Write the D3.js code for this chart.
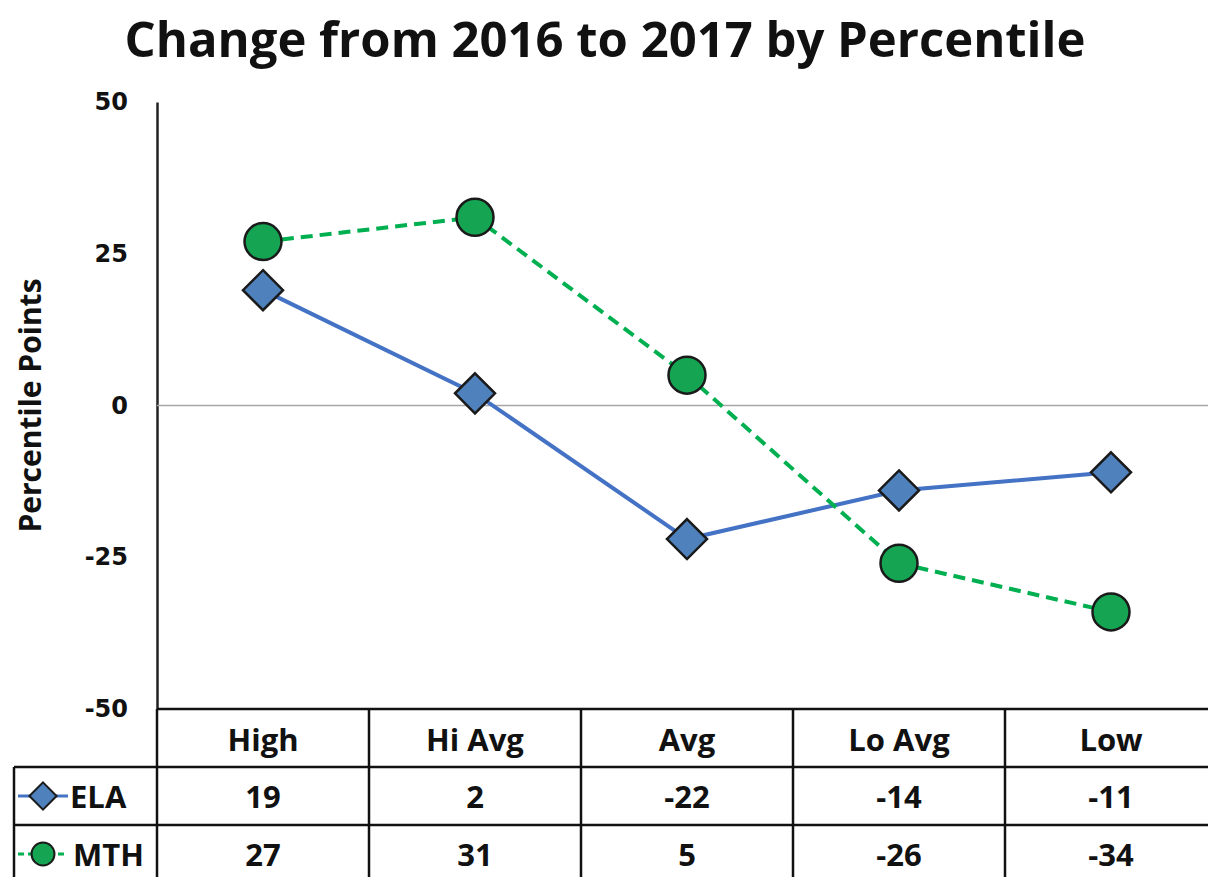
<!DOCTYPE html>
<html>
<head>
<meta charset="utf-8">
<script src="https://cdnjs.cloudflare.com/ajax/libs/d3/7.8.5/d3.min.js"></script>
<style>
  body { margin: 0; background: #fff; }
  text { font-family: "Open Sans", "Liberation Sans", sans-serif; font-weight: bold; fill: #111; }
</style>
</head>
<body>
<div id="chart"></div>
<script>
// Data
const categories = ["High", "Hi Avg", "Avg", "Lo Avg", "Low"];
const elaValues = [19, 2, -22, -14, -11];
const mthValues = [27, 31, 5, -26, -34];
const yTicks = [50, 25, 0, -25, -50];

const config = {
    width: 1208,
    height: 877,
    plotLeft: 157,
    plotRight: 1217,
    plotTop: 102,
    plotBottom: 709,
    rowH: 58
};

const svg = d3.select("#chart")
    .append("svg")
    .attr("width", config.width)
    .attr("height", config.height);

// Scales
const xScale = d3.scaleBand()
    .domain(categories)
    .range([config.plotLeft, config.plotRight]);

const yScale = d3.scaleLinear()
    .domain([-50, 50])
    .range([config.plotBottom, config.plotTop]);

const cx = c => xScale(c) + xScale.bandwidth() / 2;

// Title
svg.append("text")
    .attr("x", 605)
    .attr("y", 57)
    .attr("text-anchor", "middle")
    .style("font-size", "49px")
    .text("Change from 2016 to 2017 by Percentile");

// Y axis
const yAxis = d3.axisLeft(yScale)
    .tickValues(yTicks)
    .tickSize(0)
    .tickPadding(29)
    .tickFormat(d => String(d)); // plain hyphen, not the minus sign

const yG = svg.append("g")
    .attr("transform", `translate(${config.plotLeft},0)`)
    .call(yAxis);
yG.select(".domain").attr("stroke", "#222").attr("stroke-width", 2.5);
yG.selectAll(".tick text")
    .style("font-size", "24px")
    .style("font-family", "DejaVu Sans, sans-serif")
    .style("font-weight", "bold")
    .attr("fill", "#111");

svg.append("text")
    .attr("transform", `translate(41, ${yScale(0)}) rotate(-90)`)
    .attr("text-anchor", "middle")
    .style("font-size", "30px")
    .text("Percentile Points");

// Zero line
svg.append("line")
    .attr("x1", config.plotLeft)
    .attr("x2", config.plotRight)
    .attr("y1", yScale(0))
    .attr("y2", yScale(0))
    .attr("stroke", "#a6a6a6")
    .attr("stroke-width", 1.5);

// Series
const series = [
    { name: "ELA", values: elaValues, line: "#4472c4", fill: "#4f81bd", dash: null },
    { name: "MTH", values: mthValues, line: "#00b050", fill: "#14a452", dash: "12,7" }
];

const lineGen = d3.line()
    .x((d, i) => cx(categories[i]))
    .y(d => yScale(d));

series.forEach(s => {
    svg.append("path")
        .datum(s.values)
        .attr("fill", "none")
        .attr("stroke", s.line)
        .attr("stroke-width", 4)
        .attr("stroke-dasharray", s.dash)
        .attr("d", lineGen);
});

// Markers
function drawMarker(g, s, x, y, scale) {
    if (s.name === "ELA") {
        const h = 20 * scale;
        g.append("path")
            .attr("d", `M${x},${y - h}L${x + h},${y}L${x},${y + h}L${x - h},${y}Z`)
            .attr("fill", s.fill)
            .attr("stroke", "#1a1a1a")
            .attr("stroke-width", 2.5 * Math.max(scale, 0.8));
    } else {
        g.append("circle")
            .attr("cx", x)
            .attr("cy", y)
            .attr("r", 18.5 * scale)
            .attr("fill", s.fill)
            .attr("stroke", "#1a1a1a")
            .attr("stroke-width", 2.5 * Math.max(scale, 0.8));
    }
}

series.forEach(s => {
    const g = svg.append("g");
    s.values.forEach((v, i) => drawMarker(g, s, cx(categories[i]), yScale(v), 1));
});

// Data table
const table = svg.append("g");
const tTop = config.plotBottom;
const rows = [tTop, tTop + config.rowH, tTop + config.rowH * 2];
const tableLeft = 14;

table.append("line")
    .attr("x1", config.plotLeft).attr("x2", config.width)
    .attr("y1", rows[0]).attr("y2", rows[0])
    .attr("stroke", "#111").attr("stroke-width", 2.5);
[rows[1], rows[2]].forEach(y => {
    table.append("line")
        .attr("x1", tableLeft).attr("x2", config.width)
        .attr("y1", y).attr("y2", y)
        .attr("stroke", "#111").attr("stroke-width", 2.5);
});
table.append("line")
    .attr("x1", tableLeft).attr("x2", tableLeft)
    .attr("y1", rows[1]).attr("y2", config.height)
    .attr("stroke", "#111").attr("stroke-width", 2.5);
categories.forEach(c => {
    table.append("line")
        .attr("x1", xScale(c)).attr("x2", xScale(c))
        .attr("y1", rows[0]).attr("y2", config.height)
        .attr("stroke", "#111").attr("stroke-width", 2.5);
});

// Header
categories.forEach(c => {
    table.append("text")
        .attr("x", cx(c))
        .attr("y", rows[0] + 42)
        .attr("text-anchor", "middle")
        .style("font-size", "31px")
        .text(c);
});

// Rows
series.forEach((s, r) => {
    const yMid = rows[r + 1] + config.rowH / 2;
    // legend key
    table.append("line")
        .attr("x1", 18).attr("x2", 68)
        .attr("y1", yMid).attr("y2", yMid)
        .attr("stroke", s.line)
        .attr("stroke-width", 3)
        .attr("stroke-dasharray", s.dash ? "6,4" : null);
    drawMarker(table, s, 43, yMid, s.name === "ELA" ? 0.68 : 0.62);
    table.append("text")
        .attr("x", s.name === "ELA" ? 70 : 73)
        .attr("y", yMid + 12)
        .style("font-size", "31px")
        .text(s.name);
    s.values.forEach((v, i) => {
        table.append("text")
            .attr("x", cx(categories[i]))
            .attr("y", yMid + 12)
            .attr("text-anchor", "middle")
            .style("font-size", "31px")
            .text(v);
    });
});
</script>
</body>
</html>
